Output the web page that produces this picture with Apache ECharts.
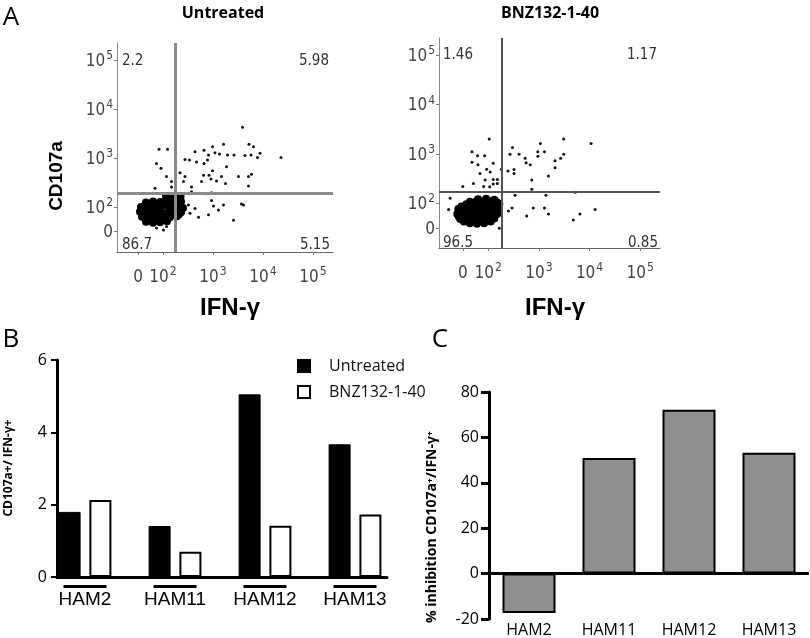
<!DOCTYPE html>
<html><head><meta charset="utf-8">
<script src="https://cdn.jsdelivr.net/npm/echarts@6/dist/echarts.min.js"></script>
<style>html,body{margin:0;padding:0;background:#fff}#c{width:810px;height:638px}</style>
</head><body><div id="c"></div>
<script>
// ---- Panel A data (display units: decades, "0" shown at 1.5) ----
const flowTickValues = [1.5, 2, 3, 4, 5];
const untreatedGate = [2.24, 2.29];
const bnzGate = [2.26, 2.24];
const untreatedQuadrants = ['2.2', '5.98', '86.7', '5.15'];
const bnzQuadrants = ['1.46', '1.17', '96.5', '0.85'];
const untreatedCluster = [
[2.06,2.21],[2.21,2.19],[2.35,2.22],
[1.66,2.09],[1.80,2.11],[1.94,2.10],[2.08,2.12],[2.22,2.08],[2.36,2.11],
[1.56,2.00],[1.70,2.01],[1.84,1.99],[1.98,2.02],[2.12,1.99],[2.26,2.01],[2.40,1.98],
[1.54,1.90],[1.68,1.89],[1.82,1.91],[1.96,1.90],[2.10,1.88],[2.24,1.91],[2.36,1.89],
[1.58,1.80],[1.72,1.79],[1.86,1.81],[2.00,1.80],[2.14,1.79],[2.28,1.81],
[1.66,1.70],[1.80,1.68],[1.94,1.69],[2.08,1.71],
[1.62,1.95],[1.76,1.85],[1.90,1.95],[2.04,1.85],[2.18,1.95],[2.32,1.85],
[1.74,2.05],[1.88,2.05],[2.02,2.05],[2.16,2.05],[2.30,2.05],
[1.72,1.74],[1.88,1.74],[2.02,1.75],[2.14,2.16],[2.28,2.15]
];
const untreatedEvents = [
[3.59,3.63],[1.92,3.18],[2.09,3.18],[2.99,3.23],[3.21,3.28],[3.72,3.28],[3.81,3.23],
[2.82,3.16],[2.64,3.13],[2.91,3.06],[3.04,3.11],[3.13,3.08],[3.29,3.06],[3.42,3.06],
[3.64,3.05],[3.76,3.06],[3.94,3.10],[4.36,3.01],[3.89,3.01],[1.87,2.89],[2.44,2.97],
[2.53,2.96],[2.67,2.92],[2.82,2.89],[2.89,2.96],[3.27,2.82],[2.99,2.74],[1.96,2.79],
[2.07,2.62],[2.34,2.70],[2.44,2.62],[2.81,2.65],[2.92,2.65],[2.96,2.57],[3.07,2.53],
[3.17,2.62],[3.51,2.62],[3.77,2.67],[3.71,2.62],[3.25,2.48],[2.77,2.52],[2.17,2.52],
[2.41,2.52],[3.71,2.43],[2.17,2.41],[1.84,2.38],[2.57,2.41],[2.97,2.29],[2.87,2.27],
[2.57,2.31],[2.97,2.13],[3.01,2.02],[3.21,2.04],[3.61,2.04],[3.11,1.94],[2.91,1.84],
[2.71,1.79],[3.41,1.73],[2.64,1.97],[2.54,1.87],[2.51,2.04],[2.01,1.53],[2.07,1.60],
[1.87,1.57],[3.57,2.06]
];
const bnzCluster = [
[1.80,2.08],[1.96,2.09],[2.12,2.07],
[1.64,2.03],[1.77,2.04],[1.91,2.03],[2.05,2.04],[2.17,2.02],
[1.57,1.98],[1.70,1.97],[1.84,1.99],[1.98,1.98],[2.12,1.97],[2.22,1.99],
[1.47,1.93],[1.60,1.92],[1.73,1.94],[1.87,1.93],[2.01,1.92],[2.14,1.93],
[1.41,1.88],[1.53,1.89],[1.66,1.87],[1.80,1.88],[1.94,1.89],[2.08,1.87],[2.20,1.88],
[1.45,1.83],[1.58,1.82],[1.71,1.84],[1.85,1.83],[1.99,1.82],[2.12,1.84],
[1.39,1.78],[1.51,1.77],[1.64,1.79],[1.78,1.78],[1.92,1.77],[2.06,1.79],[2.18,1.78],
[1.42,1.73],[1.55,1.72],[1.68,1.74],[1.82,1.73],[1.96,1.72],[2.09,1.73],
[1.45,1.68],[1.59,1.67],[1.72,1.69],[1.86,1.68],[2.00,1.67],[2.12,1.69],
[1.52,1.63],[1.65,1.62],[1.79,1.63],[1.93,1.62],[2.05,1.63],
[1.64,1.59],[1.78,1.58],[1.92,1.59]
];
const bnzEvents = [
[2.02,3.30],[3.49,3.30],[4.03,3.21],[3.03,3.21],[2.48,3.13],[1.68,3.04],[1.79,2.96],
[1.93,2.96],[2.43,2.99],[2.61,2.99],[2.98,3.04],[2.98,2.95],[3.11,3.04],[3.49,2.99],
[3.43,2.91],[3.32,2.86],[2.73,2.91],[2.75,2.82],[2.83,2.78],[1.68,2.83],[1.80,2.78],
[2.10,2.81],[1.97,2.69],[2.04,2.63],[1.84,2.60],[2.26,2.69],[2.39,2.65],[2.51,2.68],
[2.51,2.60],[3.32,2.72],[3.19,2.55],[1.94,2.47],[2.10,2.48],[2.18,2.48],[2.18,2.40],
[2.86,2.47],[1.71,2.40],[1.91,2.34],[1.50,2.34],[2.10,2.39],[2.03,2.33],[2.53,2.16],
[3.14,2.16],[3.72,2.22],[2.86,2.28],[2.89,1.90],[3.11,1.90],[2.47,1.90],[2.40,1.84],
[3.19,1.78],[3.81,1.78],[4.11,1.87],[3.68,1.66],[2.76,1.74],[2.22,1.49],[1.25,2.10],[1.22,1.87]
];

// ---- Panel B / C data ----
const categories = ['HAM2', 'HAM11', 'HAM12', 'HAM13'];
const seriesNames = ['Untreated', 'BNZ132-1-40'];
const untreatedRatio = [1.80, 1.41, 5.05, 3.67];
const bnzRatio = [2.13, 0.70, 1.42, 1.73];
const inhibition = [-17.4, 50.9, 72.2, 53.2];

const flowFont = '"DejaVu Sans Condensed", "DejaVu Sans", sans-serif';
const calibri = '"Open Sans", sans-serif';
const arial = '"Liberation Sans", Arial, sans-serif';

function flowLabel(v) {
  if (Math.abs(v - 1.5) < 0.01) return '{b|0}';
  return '{b|10}{s|' + Math.round(v) + '}';
}
const flowRich = {
  b: { fontFamily: flowFont, fontSize: 17, color: '#444', lineHeight: 20, verticalAlign: 'bottom' },
  s: { fontFamily: flowFont, fontSize: 12, color: '#444', lineHeight: 20, verticalAlign: 'top', padding: [0, 0, 0, 1] }
};
function flowX(gi, min, max) {
  return {
    type: 'value', gridIndex: gi, min: min, max: max,
    splitLine: { show: false },
    axisLine: { show: true, onZero: false, lineStyle: { color: '#666', width: 1 } },
    axisTick: { show: true, customValues: flowTickValues, length: 3, lineStyle: { color: '#777' } },
    axisLabel: { customValues: flowTickValues, formatter: flowLabel, rich: flowRich, margin: 14 }
  };
}
function flowY(gi, min, max) {
  return {
    type: 'value', gridIndex: gi, min: min, max: max,
    splitLine: { show: false },
    axisLine: { show: true, onZero: false, lineStyle: { color: '#888', width: 1 } },
    axisTick: { show: true, customValues: flowTickValues, length: 3, lineStyle: { color: '#777' } },
    axisLabel: { customValues: flowTickValues, formatter: flowLabel, rich: flowRich, margin: 4 }
  };
}
function gateLines(g, color, width) {
  return {
    silent: true, symbol: ['none', 'none'], label: { show: false },
    lineStyle: { color: color, width: width, type: 'solid', opacity: 1 },
    data: [{ xAxis: g[0] }, { yAxis: g[1] }]
  };
}
function txt(text, x, y, font, opts) {
  opts = opts || {};
  return {
    type: 'text', x: x, y: y, rotation: opts.rot || 0, z: 100,
    style: {
      text: text, font: font, fill: opts.fill || '#000',
      textAlign: opts.align || 'center', textVerticalAlign: 'middle'
    }
  };
}

const chart = echarts.init(document.getElementById('c'), null, { renderer: 'canvas' });
const option = {
  animation: false,
  backgroundColor: '#fff',
  grid: [
    { left: 117, top: 43, width: 216, height: 209 },
    { left: 439, top: 38, width: 221, height: 210 },
    { left: 40, top: 360, width: 360, height: 217 },
    { left: 57, top: 360, width: 330, height: 217 },
    { left: 489, top: 392, width: 320, height: 231 }
  ],
  xAxis: [
    flowX(0, 1.08, 5.40),
    flowX(1, 1.03, 5.39),
    {
      type: 'category', gridIndex: 2, data: categories,
      axisLine: { show: false }, axisTick: { show: false },
      axisLabel: {
        margin: 8, interval: 0,
        formatter: v => '{u| }\n{t|' + v + '}',
        rich: {
          u: { width: 43, height: 3, backgroundColor: '#000', lineHeight: 3 },
          t: { fontFamily: arial, fontSize: 19, color: '#000', lineHeight: 24 }
        }
      }
    },
    {
      type: 'value', gridIndex: 3, min: 0, max: 1,
      axisLine: { show: true, lineStyle: { color: '#000', width: 3 } },
      axisTick: { show: false }, axisLabel: { show: false }, splitLine: { show: false }
    },
    {
      type: 'category', gridIndex: 4, data: categories, position: 'bottom',
      axisLine: { show: false, onZero: false }, axisTick: { show: false },
      axisLabel: { margin: 3, interval: 0, fontFamily: calibri, fontSize: 16, color: '#000' }
    }
  ],
  yAxis: [
    flowY(0, 1.08, 5.35),
    flowY(1, 1.09, 5.35),
    { type: 'value', gridIndex: 2, min: 0, max: 6, show: false },
    {
      type: 'value', gridIndex: 3, min: 0, max: 6, interval: 2,
      axisLine: { show: true, lineStyle: { color: '#000', width: 3 } },
      axisTick: { show: true, length: 6, lineStyle: { color: '#000', width: 2 } },
      axisLabel: { margin: 10, fontFamily: calibri, fontSize: 16, color: '#000' },
      splitLine: { show: false }
    },
    {
      type: 'value', gridIndex: 4, min: -20, max: 80, interval: 20,
      axisLine: { show: true, onZero: false, lineStyle: { color: '#000', width: 3 } },
      axisTick: { show: true, length: 8, lineStyle: { color: '#000', width: 3 } },
      axisLabel: { margin: 10, fontFamily: calibri, fontSize: 16, color: '#000' },
      splitLine: { show: false }
    }
  ],
  legend: {
    data: seriesNames, orient: 'vertical', left: 292, top: 353,
    icon: 'rect', itemWidth: 12, itemHeight: 12, itemGap: 10,
    textStyle: { fontFamily: calibri, fontSize: 16, color: '#111', padding: [10, 0, 0, 14] }
  },
  series: [
    {
      type: 'scatter', xAxisIndex: 0, yAxisIndex: 0, data: untreatedCluster,
      symbolSize: 8, itemStyle: { color: '#000', opacity: 1 }, silent: true,
      markLine: gateLines(untreatedGate, '#8a8a8a', 3)
    },
    {
      type: 'scatter', xAxisIndex: 0, yAxisIndex: 0, data: untreatedEvents,
      symbolSize: 3, itemStyle: { color: '#111', opacity: 1 }, silent: true
    },
    {
      type: 'scatter', xAxisIndex: 1, yAxisIndex: 1, data: bnzCluster,
      symbolSize: 8, itemStyle: { color: '#000', opacity: 1 }, silent: true,
      markLine: gateLines(bnzGate, '#555', 2)
    },
    {
      type: 'scatter', xAxisIndex: 1, yAxisIndex: 1, data: bnzEvents,
      symbolSize: 3, itemStyle: { color: '#111', opacity: 1 }, silent: true
    },
    {
      name: seriesNames[0], type: 'bar', xAxisIndex: 2, yAxisIndex: 2, data: untreatedRatio,
      barWidth: 22, barGap: '40%', itemStyle: { color: '#000', borderColor: '#000', borderWidth: 1 }
    },
    {
      name: seriesNames[1], type: 'bar', xAxisIndex: 2, yAxisIndex: 2, data: bnzRatio,
      barWidth: 22, barGap: '40%', itemStyle: { color: '#fff', borderColor: '#000', borderWidth: 2 }
    },
    {
      type: 'bar', xAxisIndex: 4, yAxisIndex: 4, data: inhibition,
      barWidth: 53, itemStyle: { color: '#8f8f8f', borderColor: '#000', borderWidth: 2 },
      markLine: {
        silent: true, symbol: ['none', 'none'], label: { show: false },
        lineStyle: { color: '#000', width: 3, type: 'solid' }, data: [{ yAxis: 0 }]
      }
    }
  ],
  graphic: [
    txt('A', 11, 18, 'normal 26px "Open Sans"'),
    txt('B', 11, 340, 'normal 26px "Open Sans"'),
    txt('C', 440, 340, 'normal 26px "Open Sans"'),
    txt('Untreated', 223, 13, 'bold 16px "Open Sans"'),
    txt('BNZ132-1-40', 550, 13, 'bold 16px "Open Sans"'),
    txt('CD107a', 57, 176, 'bold 19px "Liberation Sans"', { rot: Math.PI / 2 }),
    txt('IFN-γ', 230, 308, 'bold 24px "Liberation Sans"'),
    txt('IFN-γ', 555, 308, 'bold 24px "Liberation Sans"'),
    txt(untreatedQuadrants[0], 122, 61, '15px "DejaVu Sans Condensed"', { align: 'left', fill: '#333' }),
    txt(untreatedQuadrants[1], 329, 61, '15px "DejaVu Sans Condensed"', { align: 'right', fill: '#333' }),
    txt(untreatedQuadrants[2], 122, 245, '15px "DejaVu Sans Condensed"', { align: 'left', fill: '#333' }),
    txt(untreatedQuadrants[3], 330, 245, '15px "DejaVu Sans Condensed"', { align: 'right', fill: '#333' }),
    txt(bnzQuadrants[0], 443, 55, '15px "DejaVu Sans Condensed"', { align: 'left', fill: '#333' }),
    txt(bnzQuadrants[1], 657, 55, '15px "DejaVu Sans Condensed"', { align: 'right', fill: '#333' }),
    txt(bnzQuadrants[2], 443, 243, '15px "DejaVu Sans Condensed"', { align: 'left', fill: '#333' }),
    txt(bnzQuadrants[3], 658, 243, '15px "DejaVu Sans Condensed"', { align: 'right', fill: '#333' }),
    txt('CD107a+/ IFN-γ+', 9, 468, 'bold 12px "Open Sans"', { rot: Math.PI / 2 }),
    txt('% inhibition CD107a⁺/IFN-γ⁺', 432, 527, 'bold 14px "Open Sans"', { rot: Math.PI / 2 })
  ]
};
chart.setOption(option);
</script>
</body></html>
